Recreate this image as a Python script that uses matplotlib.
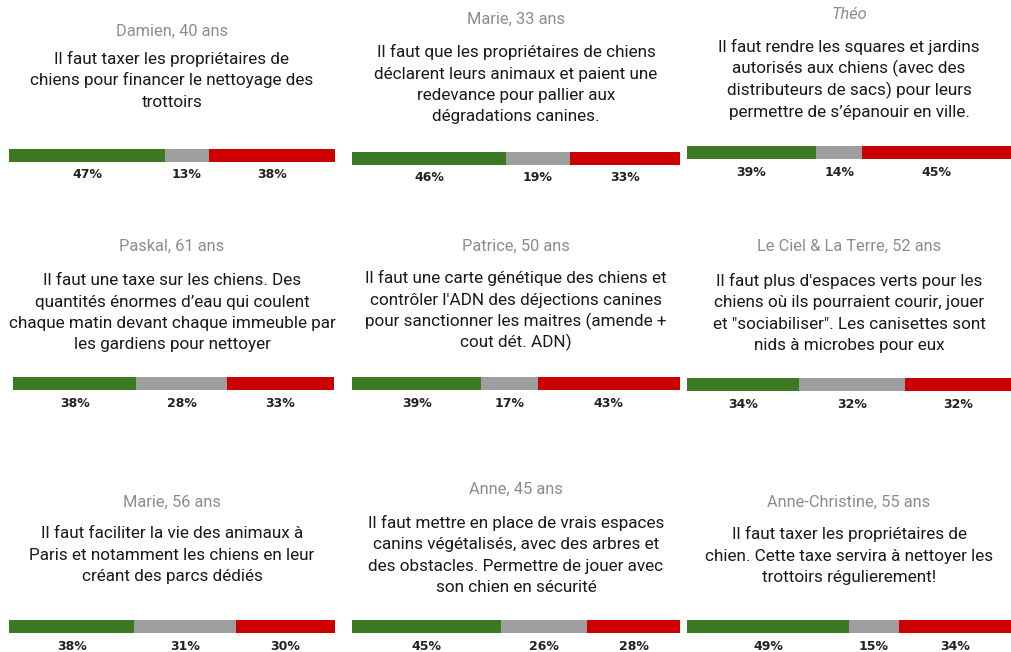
import matplotlib
matplotlib.use("Agg")
import matplotlib.pyplot as plt

# Survey responses: author, proposal, and share of pour / neutre / contre
names = ["Damien, 40 ans", "Marie, 33 ans", "Théo",
         "Paskal, 61 ans", "Patrice, 50 ans", "Le Ciel & La Terre, 52 ans",
         "Marie, 56 ans", "Anne, 45 ans", "Anne-Christine, 55 ans"]
quotes = [
    "Il faut taxer les propriétaires de\nchiens pour financer le nettoyage des\ntrottoirs",
    "Il faut que les propriétaires de chiens\ndéclarent leurs animaux et paient une\nredevance pour pallier aux\ndégradations canines.",
    "Il faut rendre les squares et jardins\nautorisés aux chiens (avec des\ndistributeurs de sacs) pour leurs\npermettre de s’épanouir en ville.",
    "Il faut une taxe sur les chiens. Des\nquantités énormes d’eau qui coulent\nchaque matin devant chaque immeuble par\nles gardiens pour nettoyer",
    "Il faut une carte génétique des chiens et\ncontrôler l'ADN des déjections canines\npour sanctionner les maitres (amende +\ncout dét. ADN)",
    "Il faut plus d'espaces verts pour les\nchiens où ils pourraient courir, jouer\net \"sociabiliser\". Les canisettes sont\nnids à microbes pour eux",
    "Il faut faciliter la vie des animaux à\nParis et notamment les chiens en leur\ncréant des parcs dédiés",
    "Il faut mettre en place de vrais espaces\ncanins végétalisés, avec des arbres et\ndes obstacles. Permettre de jouer avec\nson chien en sécurité",
    "Il faut taxer les propriétaires de\nchien. Cette taxe servira à nettoyer les\ntrottoirs régulierement!",
]
pour = [47, 46, 39, 38, 39, 34, 38, 45, 49]
neutre = [13, 19, 14, 28, 17, 32, 31, 26, 15]
contre = [38, 33, 45, 33, 43, 32, 30, 28, 34]

colors = ["#3b7a23", "#9e9e9e", "#cc0000"]

W, H = 1011, 652
fig = plt.figure(figsize=(W / 100, H / 100), dpi=100)

# panel geometry in pixels: bar x-range and y positions per panel
bar_x = [(9, 335), (352, 680), (687, 1011),
         (13, 334), (352, 680), (687, 1011),
         (9, 335), (352, 680), (687, 1011)]
text_cx = [172, 516, 849, 172, 516, 849, 172, 516, 849]
name_y = [31, 19, 14, 246, 246, 246, 502, 489, 502]
quote_y = [58, 51, 46, 279, 277, 280, 532, 522, 533]
line_step = 21.5
bar_y = [148.5, 151.5, 146, 377.3, 377.3, 378, 620, 620, 620]
bar_h = 13
label_gap = 13.5

def fx(px):
    return px / W

def fy(py):
    return 1 - py / H

for i in range(9):
    x0, x1 = bar_x[i]
    cx = text_cx[i]
    fig.text(fx(cx), fy(name_y[i] + 5), names[i], ha="center", va="baseline",
             fontsize=11.8, color="#8c8c8c", family="Roboto",
             style="italic" if names[i] == "Théo" else "normal")
    for k, line in enumerate(quotes[i].split("\n")):
        fig.text(fx(cx), fy(quote_y[i] + k * line_step + 6), line,
                 ha="center", va="baseline", fontsize=12.3,
                 color="#1a1a1a", family="Roboto")

    vals = [pour[i], neutre[i], contre[i]]
    total = sum(vals)
    ax = fig.add_axes([fx(x0), fy(bar_y[i] + bar_h), fx(x1 - x0), bar_h / H])
    left = 0
    for v, col in zip(vals, colors):
        ax.barh(0, v, left=left, height=1, color=col, edgecolor="none")
        ax.text(left + v / 2, -0.5 - label_gap / bar_h, f"{v}%",
                ha="center", va="center", fontsize=9, fontweight="bold",
                color="#222222", family="DejaVu Sans", clip_on=False)
        left += v
    ax.set_xlim(0, total)
    ax.set_ylim(-0.5, 0.5)
    ax.axis("off")

fig.savefig("out.png", dpi=100, facecolor="white")
